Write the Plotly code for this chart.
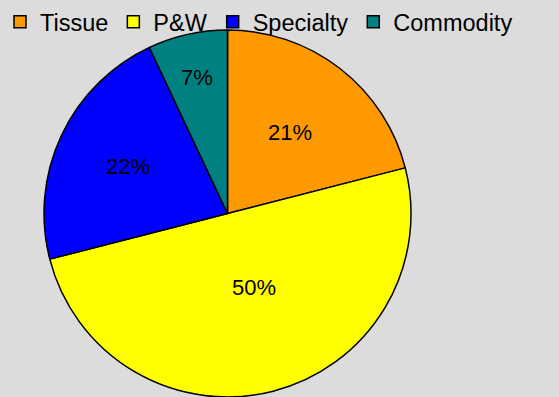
import math
import plotly.graph_objects as go

# Market share by paper grade
categories = ["Tissue", "P&W", "Specialty", "Commodity"]
shares = [21, 50, 22, 7]
colors = ["#ff9900", "#ffff00", "#0000ff", "#008080"]

# where each percentage label sits: fraction of the radius out from the
# centre, and a small turn (degrees) away from the slice's mid-angle
label_radius = [0.56, 0.43, 0.60, 0.76]
label_turn = [0, -5, 0, 0]

W, H = 559, 397
DOMAIN_X = [0, 0.814]
DOMAIN_Y = [0, 1 - 30 / H]  # leave a band at the top for the legend

fig = go.Figure(
    go.Pie(
        labels=categories,
        values=shares,
        sort=False,
        direction="clockwise",
        rotation=0,
        marker=dict(colors=colors, line=dict(color="#000000", width=1.5)),
        textinfo="none",
        domain=dict(x=DOMAIN_X, y=DOMAIN_Y),
        hoverinfo="label+percent",
    )
)

# percentage labels placed along the middle of each slice
radius_px = min(W * (DOMAIN_X[1] - DOMAIN_X[0]), H * (DOMAIN_Y[1] - DOMAIN_Y[0])) / 2
cx = (DOMAIN_X[0] + DOMAIN_X[1]) / 2
cy = (DOMAIN_Y[0] + DOMAIN_Y[1]) / 2
total = sum(shares)
start = 0.0
for share, frac, turn in zip(shares, label_radius, label_turn):
    mid = (start + share / 2) / total * 2 * math.pi + math.radians(turn)
    start += share
    r = frac * radius_px
    fig.add_annotation(
        x=cx + r * math.sin(mid) / W,
        y=cy + r * math.cos(mid) / H,
        xref="paper",
        yref="paper",
        xanchor="center",
        yanchor="middle",
        text=f"{round(share / total * 100)}%",
        showarrow=False,
        font=dict(family="Arial, Liberation Sans, sans-serif", size=22, color="#000000"),
    )

fig.update_layout(
    width=W,
    height=H,
    paper_bgcolor="#dcdcdc",
    plot_bgcolor="#dcdcdc",
    margin=dict(l=0, r=0, t=0, b=0),
    showlegend=True,
    legend=dict(
        orientation="h",
        x=0.0,
        y=1.0,
        xanchor="left",
        yanchor="top",
        itemwidth=30,
        font=dict(family="Arial, Liberation Sans, sans-serif", size=23.5, color="#000000"),
        bgcolor="rgba(0,0,0,0)",
        traceorder="normal",
    ),
)

fig.write_html("out.html")
